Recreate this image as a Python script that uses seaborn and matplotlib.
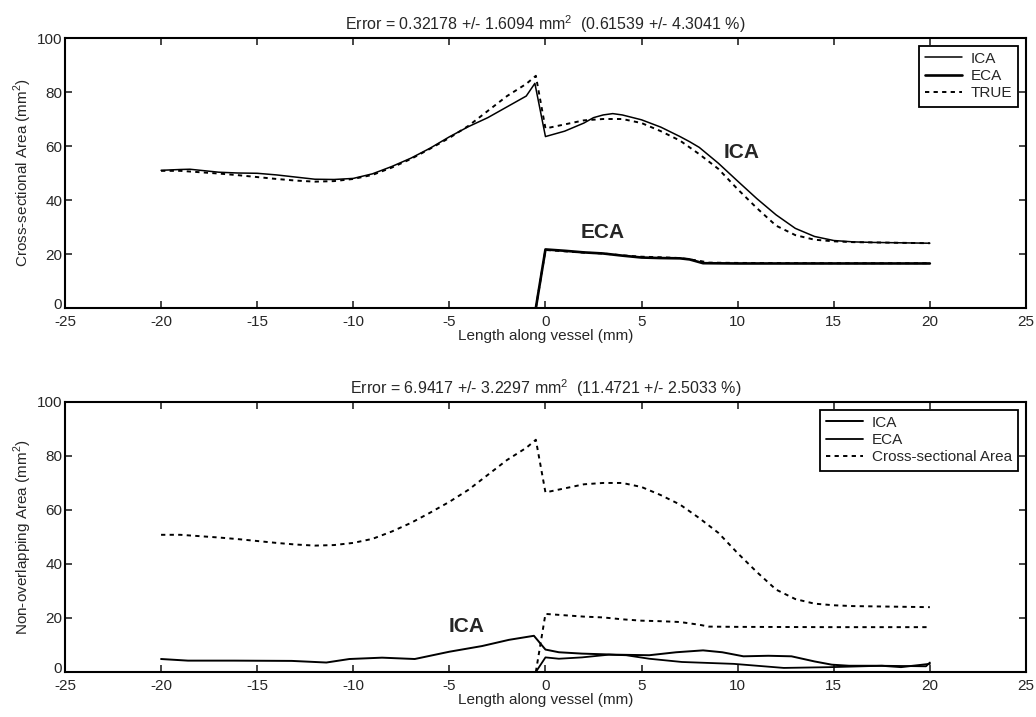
import matplotlib
matplotlib.use("Agg")
import matplotlib.pyplot as plt
import matplotlib.transforms as mtransforms
import seaborn as sns

# --- top panel: area along vessel
ica_x = [-20, -19, -18.5, -17, -16, -15, -14, -13, -12, -11, -10, -9, -8, -7, -6, -5, -4, -3, -2, -1, -0.55,
         0, 1, 2, 2.5, 3, 3.5, 4, 5, 6, 7, 7.5, 8, 9, 10, 11, 12, 13, 14, 15, 16, 17, 18, 19, 20]
ica_y = [51, 51.3, 51.4, 50.3, 50, 49.9, 49.3, 48.5, 47.7, 47.6, 48, 49.7, 52.4, 55.5, 59.2, 63.4, 67.2, 70.5, 74.5, 78.5, 83.2,
         63.5, 65.5, 68.5, 70.5, 71.5, 72, 71.5, 69.7, 67, 63.5, 61.6, 59.5, 53.6, 47, 40.5, 34.5, 29.5, 26.5, 25, 24.5, 24.3, 24.2, 24.1, 24]

true_ica_x = [-20, -19, -18, -17, -16, -15, -14, -13, -12, -11, -10, -9, -8, -7, -6, -5, -4, -3, -2, -1, -0.5,
              0, 1, 2, 3, 4, 5, 6, 7, 8, 9, 10, 11, 12, 13, 14, 15, 16, 18, 20]
true_ica_y = [50.8, 50.8, 50.3, 49.8, 49.2, 48.5, 47.8, 47.2, 46.8, 47, 47.8, 49.3, 52, 55.2, 59, 63, 67.5, 73, 78.5, 83, 86,
              66.5, 68, 69.5, 70, 70, 68.5, 65.5, 62, 57, 51.5, 44, 37, 30.5, 27, 25.3, 24.7, 24.4, 24.2, 24]

eca_x = [-0.5, 0, 1, 2, 3, 4, 5, 6, 7, 7.5, 8.2, 10, 15, 20]
eca_y = [0, 21.7, 21.2, 20.6, 20.2, 19.4, 18.7, 18.5, 18.4, 18, 16.6, 16.5, 16.5, 16.5]

true_eca_x = [-0.5, 0, 1, 2, 3, 4, 5, 6, 7, 8, 8.5, 10, 15, 20]
true_eca_y = [0, 21.5, 21, 20.5, 20.2, 19.5, 19, 18.8, 18.5, 17.5, 16.8, 16.7, 16.6, 16.6]

# --- bottom panel: non-overlapping area
nov_ica_x = [-20, -18.6, -16.2, -13.2, -11.4, -10.2, -8.5, -6.8, -5, -3.3, -1.9, -0.6, 0, 0.7, 1.9, 3.7, 5.4,
             6.8, 8.2, 9.2, 10.3, 11.6, 12.8, 14, 14.9, 15.8, 17.5, 18.5, 20]
nov_ica_y = [4.8, 4.2, 4.2, 4.1, 3.5, 4.8, 5.3, 4.8, 7.5, 9.6, 11.9, 13.4, 8.3, 7.3, 6.8, 6.4, 6.2,
             7.3, 8, 7.3, 5.8, 6, 5.8, 3.9, 2.7, 2.3, 2.3, 1.8, 3]

nov_eca_x = [-0.5, 0, 0.7, 1.9, 3.3, 4.2, 5.4, 7.1, 9.8, 12.4, 14.9, 17.5, 19.8, 20]
nov_eca_y = [0, 5.4, 4.9, 5.4, 6.4, 6.2, 4.9, 3.7, 3, 1.5, 1.8, 2.3, 2.1, 3.5]

titles = ["Error = 0.32178 +/- 1.6094 mm$^2$  (0.61539 +/- 4.3041 %)",
          "Error = 6.9417 +/- 3.2297 mm$^2$  (11.4721 +/- 2.5033 %)"]
ylabels = ["Cross-sectional Area (mm$^2$)", "Non-overlapping Area (mm$^2$)"]
xticks = [-25, -20, -15, -10, -5, 0, 5, 10, 15, 20, 25]
yticks = [0, 20, 40, 60, 80, 100]

sns.set_style("ticks")
plt.rcParams['font.family'] = ['Liberation Sans', 'DejaVu Sans']
plt.rcParams['mathtext.fontset'] = 'custom'
plt.rcParams['mathtext.rm'] = 'Liberation Sans'
plt.rcParams['axes.unicode_minus'] = False

fig = plt.figure(figsize=(10.36, 7.17), dpi=100)
ax1 = fig.add_axes([0.0627, 0.5704, 0.9276, 0.3766])
ax2 = fig.add_axes([0.0627, 0.0628, 0.9276, 0.3766])

dot = (0, (2.2, 2.2))

sns.lineplot(x=ica_x, y=ica_y, ax=ax1, color="k", lw=1.1, label="ICA", sort=False, estimator=None)
sns.lineplot(x=eca_x, y=eca_y, ax=ax1, color="k", lw=1.9, label="ECA", sort=False, estimator=None)
sns.lineplot(x=true_ica_x, y=true_ica_y, ax=ax1, color="k", lw=1.4, linestyle=dot, label="TRUE", sort=False, estimator=None)
sns.lineplot(x=true_eca_x, y=true_eca_y, ax=ax1, color="k", lw=1.4, linestyle=dot, sort=False, estimator=None)

sns.lineplot(x=nov_ica_x, y=nov_ica_y, ax=ax2, color="k", lw=1.4, label="ICA", sort=False, estimator=None)
sns.lineplot(x=nov_eca_x, y=nov_eca_y, ax=ax2, color="k", lw=1.3, label="ECA", sort=False, estimator=None)
sns.lineplot(x=true_ica_x, y=true_ica_y, ax=ax2, color="k", lw=1.4, linestyle=dot,
             label="Cross-sectional Area", sort=False, estimator=None)
sns.lineplot(x=true_eca_x, y=true_eca_y, ax=ax2, color="k", lw=1.4, linestyle=dot, sort=False, estimator=None)

for ax, t, yl in zip([ax1, ax2], titles, ylabels):
    ax.set_xlim(-25, 25)
    ax.set_ylim(0, 100)
    ax.set_xticks(xticks)
    ax.set_yticks(yticks)
    ax.set_title(t, fontsize=11.5, pad=6)
    ax.set_xlabel("Length along vessel (mm)", fontsize=11, labelpad=0)
    ax.set_ylabel(yl, fontsize=11, labelpad=2)
    ax.tick_params(axis="both", direction="in", length=5, width=1.2, top=True, right=True, labelsize=11)
    ax.tick_params(axis="x", pad=5)
    ax.tick_params(axis="y", pad=2)
    # MATLAB-style: the 0 label sits a little above the corner
    zero_lab = ax.get_yticklabels()[0]
    zero_lab.set_transform(zero_lab.get_transform() +
                           mtransforms.ScaledTranslation(0, 3 / 72, fig.dpi_scale_trans))
    for s in ax.spines.values():
        s.set_visible(True)
        s.set_linewidth(1.5)
        s.set_color("k")
    leg = ax.legend(loc="upper right", fontsize=11, frameon=True, fancybox=False, edgecolor="k",
                    framealpha=1, borderaxespad=0.5, handlelength=2.4, handletextpad=0.6,
                    labelspacing=0.22, borderpad=0.4)
    leg.get_frame().set_linewidth(1.3)

ax1.text(10.2, 57.5, "ICA", fontsize=15, fontweight="bold", ha="center", va="center")
ax1.text(3.0, 28, "ECA", fontsize=15, fontweight="bold", ha="center", va="center")
ax2.text(-4.1, 17, "ICA", fontsize=15, fontweight="bold", ha="center", va="center")

fig.savefig("out.png", dpi=100)
